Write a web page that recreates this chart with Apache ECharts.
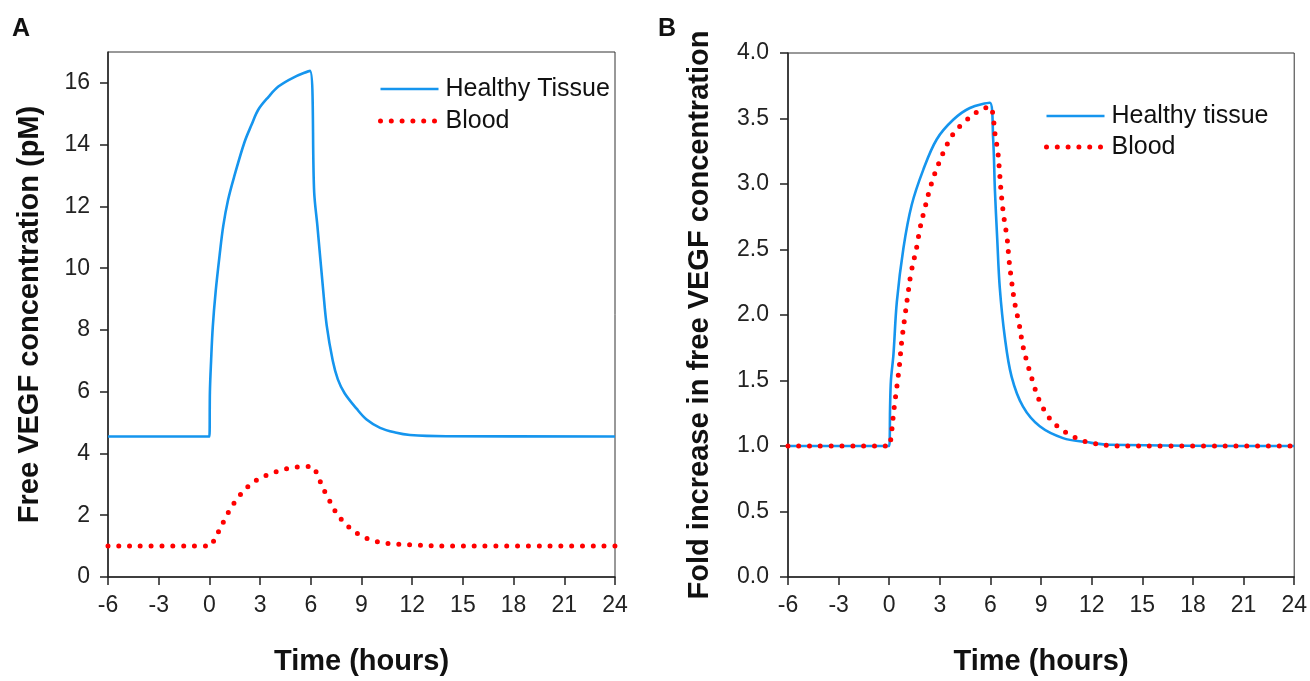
<!DOCTYPE html>
<html>
<head>
<meta charset="utf-8">
<script src="https://cdn.jsdelivr.net/npm/echarts@6/dist/echarts.min.js"></script>
<style>
  html, body { margin: 0; padding: 0; background: #fff; }
  #main { width: 1310px; height: 681px; }
</style>
</head>
<body>
<div id="main"></div>
<script>
// time axis (hours)
var timeTicks = [-6, -3, 0, 3, 6, 9, 12, 15, 18, 21, 24];
var ticksA = [0, 2, 4, 6, 8, 10, 12, 14, 16];
var ticksB = [0, 0.5, 1, 1.5, 2, 2.5, 3, 3.5, 4];

// panel A: free VEGF (pM)
var tissueA = [
  [-6, 4.55], [0, 4.55], [0.03, 6.0], [0.1, 7.0], [0.2, 8.1], [0.37, 9.24], [0.6, 10.4],
  [0.82, 11.37], [1.1, 12.2], [1.47, 12.97], [2.07, 14.07], [2.5, 14.65], [2.89, 15.13],
  [3.5, 15.55], [4.08, 15.88], [5.0, 16.18], [5.95, 16.39], [6.2, 12.46], [6.39, 11.37],
  [6.74, 9.24], [6.94, 8.15], [7.3, 7.0], [7.6, 6.4], [8.0, 5.95], [8.71, 5.45], [9.3, 5.1],
  [10.1, 4.83], [11.0, 4.68], [11.87, 4.6], [14, 4.56], [24, 4.55]
];
var bloodA = [
  [-6, 1.0], [0, 1.0], [0.27, 1.18], [0.59, 1.52], [0.92, 1.88], [1.26, 2.22], [1.71, 2.58],
  [2.27, 2.92], [2.89, 3.17], [3.53, 3.33], [4.18, 3.45], [4.81, 3.53], [5.46, 3.57],
  [6.05, 3.58], [6.44, 3.24], [6.7, 2.9], [7.04, 2.55], [7.37, 2.2], [7.81, 1.86],
  [8.42, 1.54], [9.03, 1.32], [9.64, 1.19], [10.29, 1.1], [10.94, 1.07], [11.6, 1.05],
  [12.3, 1.03], [14, 1.0], [24, 1.0]
];

// panel B: fold increase
var tissueB = [
  [-6, 1.0], [0, 1.0], [0.05, 1.3], [0.1, 1.5], [0.25, 1.7], [0.45, 2.1], [0.84, 2.51],
  [1.33, 2.84], [2.02, 3.11], [2.81, 3.34], [3.79, 3.49], [4.78, 3.58], [5.96, 3.62],
  [6.16, 3.34], [6.26, 2.96], [6.4, 2.58], [6.55, 2.21], [6.85, 1.83], [7.25, 1.53],
  [7.93, 1.3], [8.92, 1.15], [10.3, 1.06], [11.68, 1.03], [13, 1.01], [24, 1.0]
];
var bloodB = [
  [-6, 1.0], [0, 1.0], [0.09, 1.05], [0.29, 1.29], [0.45, 1.45], [0.6, 1.61], [0.74, 1.8],
  [0.94, 2.0], [1.13, 2.18], [1.29, 2.32], [1.63, 2.52], [1.82, 2.66], [2.12, 2.82],
  [2.47, 2.99], [2.91, 3.15], [3.46, 3.31], [3.89, 3.4], [4.43, 3.47], [5.08, 3.54],
  [5.67, 3.58], [6.0, 3.59], [6.12, 3.55], [6.2, 3.47], [6.26, 3.39], [6.36, 3.31],
  [6.45, 3.23], [6.55, 3.07], [6.65, 2.91], [6.79, 2.75], [6.99, 2.58], [7.1, 2.42],
  [7.25, 2.26], [7.44, 2.09], [7.7, 1.93], [7.93, 1.76], [8.23, 1.61], [8.49, 1.5],
  [8.82, 1.37], [9.16, 1.28], [9.57, 1.2], [10.16, 1.13], [10.8, 1.08], [11.45, 1.04],
  [12.1, 1.02], [13.5, 1.0], [24, 1.0]
];

var blue = '#1595ee';
var red = '#ff0000';
var font = 'Arial, "Liberation Sans", sans-serif';
var dotStyle = { color: red, width: 5, type: [0, 10.8], cap: 'round' };
var solidStyle = { color: blue, width: 2.6, type: 'solid' };

function xAxisFor(grid) {
  return {
    gridIndex: grid, type: 'value', min: -6, max: 24, interval: 3,
    name: 'Time (hours)', nameLocation: 'middle', nameGap: 70,
    nameTextStyle: { fontFamily: font, fontWeight: 'bold', fontSize: 29, color: '#111' },
    axisLine: { onZero: false, lineStyle: { color: '#222', width: 1.5 } },
    axisTick: { length: 8, lineStyle: { color: '#222', width: 1.5 }, customValues: timeTicks },
    axisLabel: { fontFamily: font, fontSize: 23, color: '#222', margin: 17, customValues: timeTicks },
    splitLine: { show: false }
  };
}

function tissueSeries(name, grid, data) {
  return {
    name: name, type: 'line', xAxisIndex: grid, yAxisIndex: grid, data: data,
    symbol: 'none', smooth: 0.35,
    lineStyle: solidStyle, itemStyle: { color: blue }, z: 2
  };
}
function bloodSeries(grid, data) {
  return {
    name: 'Blood', type: 'line', xAxisIndex: grid, yAxisIndex: grid, data: data,
    symbol: 'none', smooth: 0.35,
    lineStyle: dotStyle, itemStyle: { color: red }, z: 3
  };
}

function legendFor(tissueName, left, top, gap) {
  return {
    data: [
      { name: tissueName, lineStyle: solidStyle },
      { name: 'Blood', lineStyle: dotStyle }
    ],
    orient: 'vertical', left: left, top: top,
    itemWidth: 58, itemHeight: 14, itemGap: gap,
    itemStyle: { opacity: 0 },
    textStyle: { fontFamily: font, fontSize: 25, color: '#111', lineHeight: 26, padding: [0, 0, 0, 2] }
  };
}

var chart = echarts.init(document.getElementById('main'));
chart.setOption({
  backgroundColor: '#fff',
  animation: false,
  grid: [
    { left: 108, top: 52, width: 507, height: 528, show: true, borderColor: '#333', borderWidth: 1 },
    { left: 788, top: 53, width: 507, height: 529, show: true, borderColor: '#333', borderWidth: 1 }
  ],
  xAxis: [xAxisFor(0), xAxisFor(1)],
  yAxis: [
    {
      gridIndex: 0, type: 'value', min: 0, max: 17, interval: 2,
      name: 'Free VEGF concentration (pM)', nameLocation: 'middle', nameGap: 64,
      nameTextStyle: { fontFamily: font, fontWeight: 'bold', fontSize: 29, color: '#111' },
      axisLine: { show: true, onZero: false, lineStyle: { color: '#222', width: 1.5 } },
      axisTick: { show: true, length: 8, lineStyle: { color: '#222', width: 1.5 }, customValues: ticksA },
      axisLabel: { fontFamily: font, fontSize: 23, color: '#222', margin: 18, customValues: ticksA },
      splitLine: { show: false }
    },
    {
      gridIndex: 1, type: 'value', min: 0, max: 4, interval: 0.5,
      name: 'Fold increase in free VEGF concentration', nameLocation: 'middle', nameGap: 74,
      nameTextStyle: { fontFamily: font, fontWeight: 'bold', fontSize: 29, color: '#111' },
      axisLine: { show: true, onZero: false, lineStyle: { color: '#222', width: 1.5 } },
      axisTick: { show: true, length: 8, lineStyle: { color: '#222', width: 1.5 }, customValues: ticksB },
      axisLabel: {
        fontFamily: font, fontSize: 23, color: '#222', margin: 19, customValues: ticksB,
        formatter: function (v) { return v.toFixed(1); }
      },
      splitLine: { show: false }
    }
  ],
  legend: [
    legendFor('Healthy Tissue', 373, 71, 6),
    legendFor('Healthy tissue', 1039, 98, 5)
  ],
  graphic: [
    { type: 'text', left: 12, top: 17, style: { text: 'A', fontFamily: font, fontWeight: 'bold', fontSize: 25, fill: '#111' } },
    { type: 'text', left: 658, top: 17, style: { text: 'B', fontFamily: font, fontWeight: 'bold', fontSize: 25, fill: '#111' } }
  ],
  series: [
    tissueSeries('Healthy Tissue', 0, tissueA),
    bloodSeries(0, bloodA),
    tissueSeries('Healthy tissue', 1, tissueB),
    bloodSeries(1, bloodB)
  ]
});
</script>
</body>
</html>
